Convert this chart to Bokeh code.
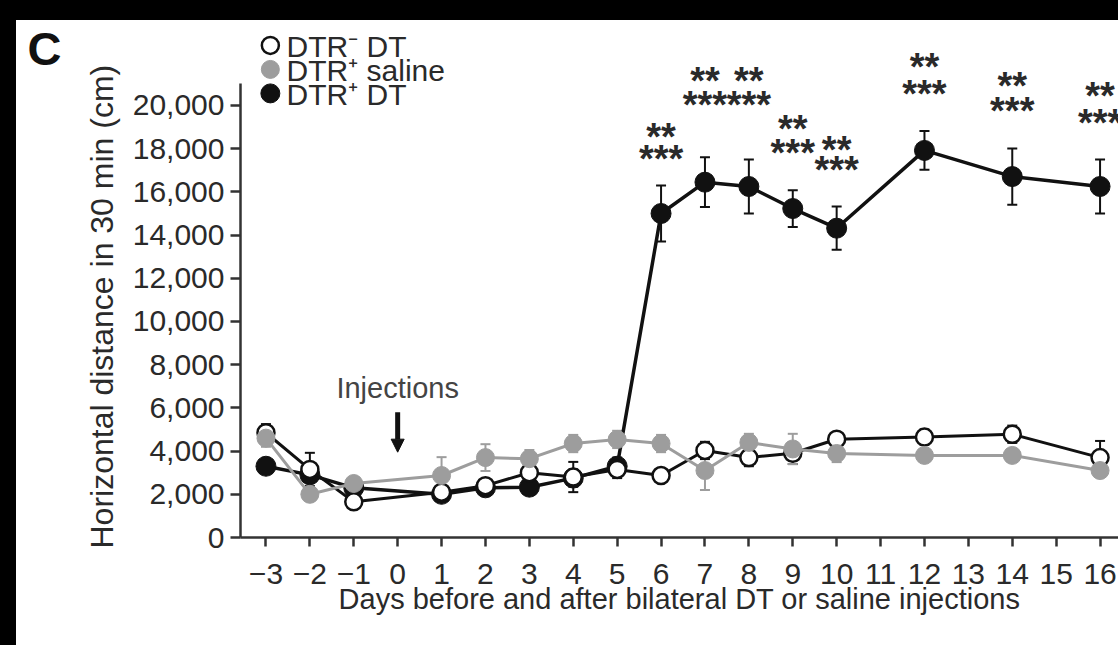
import math
from bokeh.plotting import figure
from bokeh.models import (ColumnDataSource, Whisker, TeeHead, Label, Title,
                          FixedTicker, NumeralTickFormatter, Arrow, NormalHead, Range1d, Spacer)
from bokeh.layouts import column, row
from bokeh.core.properties import value
from bokeh.embed import file_html
from bokeh.resources import INLINE

# ---------------- data ----------------
days = [-3, -2, -1, 1, 2, 3, 4, 5, 6, 7, 8, 9, 10, 12, 14, 16]

dtr_neg_dt = [4850, 3150, 1650, 2100, 2400, 3000, 2800, 3150, 2870, 4030, 3700, 3900, 4550, 4650, 4780, 3700]
dtr_neg_dt_err = [400, 770, 300, 300, 300, 500, 700, 400, 300, 400, 400, 500, 300, 350, 400, 770]

dtr_pos_saline = [4600, 2000, 2500, 2870, 3700, 3650, 4350, 4540, 4350, 3100, 4400, 4100, 3890, 3800, 3800, 3100]
dtr_pos_saline_err = [400, 300, 300, 850, 620, 400, 400, 400, 400, 900, 400, 700, 400, 300, 300, 300]

dtr_pos_dt = [3300, 2900, 2300, 2000, 2300, 2330, 2750, 3300, 15000, 16450, 16250, 15230, 14320, 17920, 16710, 16250]
dtr_pos_dt_err = [300, 300, 300, 300, 300, 300, 400, 400, 1300, 1150, 1250, 850, 1000, 900, 1300, 1250]

series_labels = ["DTR\u207b DT", "DTR\u207a saline", "DTR\u207a DT"]

x_ticks = list(range(-3, 17))
x_tick_labels = {d: (("\u2212" + str(-d)) if d < 0 else str(d)) for d in x_ticks}
y_ticks = list(range(0, 20001, 2000))

# significance annotations
star_days = [6, 7, 8, 9, 10, 12, 14, 16]
star2_y = [18840, 21390, 21390, 19170, 18240, 22080, 21200, 20740]
star3_y = [17820, 20280, 20280, 18060, 17310, 20830, 20000, 19490]

y_axis_title = "Horizontal distance in 30 min (cm)"
x_axis_title = "Days before and after bilateral DT or saline injections"
panel_letter = "C"

FONT = "Liberation Sans"
TXT = "#2a2a2a"
GRAY = "#9d9d9d"
BLACK = "#111111"

# ---------------- main plot ----------------
p = figure(width=1052, height=625, output_backend="svg", toolbar_location=None,
           x_range=Range1d(-3.58, 16.42), y_range=Range1d(0, 23935),
           min_border_left=174, min_border_right=0, min_border_top=0, min_border_bottom=108)
p.outline_line_color = None
p.grid.visible = False
p.background_fill_color = "white"
p.border_fill_color = "white"

for ax in (p.xaxis[0], p.yaxis[0]):
    ax.axis_line_color = "#333333"
    ax.axis_line_width = 2.5
    ax.major_tick_line_color = "#333333"
    ax.major_tick_line_width = 2.5
    ax.minor_tick_line_color = None
    ax.major_tick_in = 0
    ax.major_label_text_font = FONT
    ax.major_label_text_font_size = "30px"
    ax.major_label_text_color = TXT

p.xaxis.ticker = FixedTicker(ticks=x_ticks)
p.xaxis.major_label_overrides = x_tick_labels
p.xaxis.major_tick_out = 9
p.xaxis.major_label_standoff = 17
p.xaxis.axis_label = x_axis_title
p.xaxis.axis_label_text_font = FONT
p.xaxis.axis_label_text_font_size = "29px"
p.xaxis.axis_label_text_font_style = "normal"
p.xaxis.axis_label_text_color = TXT
p.xaxis.axis_label_standoff = -4

p.yaxis.ticker = FixedTicker(ticks=y_ticks)
p.yaxis.formatter = NumeralTickFormatter(format="0,0")
p.yaxis.major_tick_out = 10
p.yaxis.major_label_standoff = 6
p.yaxis.bounds = (0, 21000)

# y-axis title as a side-panel title
p.add_layout(Title(text=y_axis_title, align="left", offset=-11, standoff=20,
                   text_font=FONT, text_font_size="32px", text_font_style="normal",
                   text_color=TXT), "left")

def add_series(vals, errs, fill, line, lcolor, lw, size, mlw):
    src = ColumnDataSource(dict(x=days, y=vals,
                                lo=[v - e for v, e in zip(vals, errs)],
                                hi=[v + e for v, e in zip(vals, errs)]))
    w = Whisker(base="x", upper="hi", lower="lo", source=src, line_color=lcolor, line_width=2,
                upper_head=TeeHead(size=10, line_color=lcolor, line_width=2),
                lower_head=TeeHead(size=10, line_color=lcolor, line_width=2), level="underlay")
    p.add_layout(w)
    p.line("x", "y", source=src, line_color=lcolor, line_width=lw)
    r = p.scatter("x", "y", source=src, size=size, fill_color=fill, line_color=line, line_width=mlw)
    return r

r_black = add_series(dtr_pos_dt, dtr_pos_dt_err, BLACK, BLACK, BLACK, 3.5, 20, 1)
r_white = add_series(dtr_neg_dt, dtr_neg_dt_err, "white", BLACK, BLACK, 3, 17, 2.5)
r_gray = add_series(dtr_pos_saline, dtr_pos_saline_err, GRAY, GRAY, GRAY, 3, 18, 1)

# legend (drawn by hand so the markers keep their plotted size)
leg_x = [-2.9, -2.9, -2.9]
leg_y = [22780, 21670, 20560]
p.scatter(x=leg_x, y=leg_y, size=[17, 18, 19], fill_color=["white", GRAY, BLACK],
          line_color=[BLACK, GRAY, BLACK], line_width=[2.5, 1, 1])
p.text(x=[-2.53] * 3, y=leg_y, text=series_labels, text_font=value(FONT), text_font_size="30px",
       text_color=TXT, text_align="left", text_baseline="middle", y_offset=1)

# stars
p.text(x=star_days, y=star2_y, text=["**"] * len(star_days), text_font=value(FONT),
       text_font_size="38px", text_font_style="bold", text_align="center",
       text_baseline="alphabetic", y_offset=6, text_color=TXT)
p.text(x=star_days, y=star3_y, text=["***"] * len(star_days), text_font=value(FONT),
       text_font_size="38px", text_font_style="bold", text_align="center",
       text_baseline="alphabetic", y_offset=6, text_color=TXT)

# injections annotation
p.add_layout(Label(x=0, y=6900, text="Injections", text_font=FONT, text_font_size="29px",
                   text_color="#444444", text_align="center", text_baseline="middle"))
p.add_layout(Arrow(end=NormalHead(size=13, fill_color=BLACK, line_color=BLACK),
                   x_start=0, y_start=5800, x_end=0, y_end=3950, line_width=5, line_color=BLACK))

# ---------------- left strip: panel letter ----------------
pl = figure(width=50, height=625, output_backend="svg", toolbar_location=None,
            x_range=Range1d(0, 50), y_range=Range1d(0, 625),
            x_axis_type=None, y_axis_type=None,
            min_border_left=0, min_border_right=0, min_border_top=0, min_border_bottom=0)
pl.outline_line_color = None
pl.grid.visible = False
pl.background_fill_color = "white"
pl.border_fill_color = "white"
pl.text(x=[11], y=[591], text=[panel_letter], text_font=value(FONT), text_font_size="47px",
        text_font_style="bold", text_color=BLACK, text_align="left", text_baseline="alphabetic")

top_band = Spacer(width=1118, height=20, styles={"background-color": "black"})
left_band = Spacer(width=16, height=625, styles={"background-color": "black"})
layout = column(top_band, row(left_band, pl, p))

open("out.html", "w").write(file_html(layout, INLINE))
